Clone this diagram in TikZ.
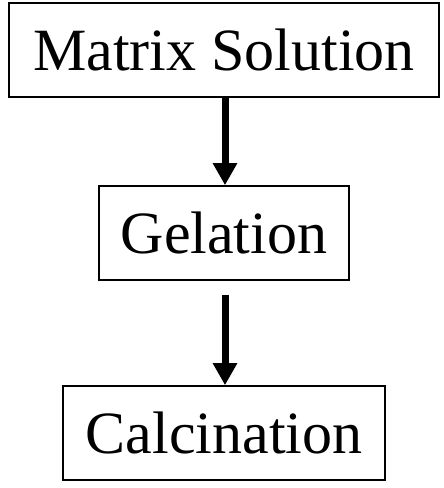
\documentclass[tikz,border=0pt]{standalone}
\usepackage{fontspec}
\setmainfont{Liberation Serif}
\usetikzlibrary{arrows.meta}
\begin{document}
\begin{tikzpicture}[x=1pt,y=1pt,
  stepbox/.style={draw, line width=1.5pt, inner sep=0pt, minimum height=94pt, font=\fontsize{60}{62}\selectfont},
  flow/.style={line width=7pt, -{Triangle[length=22pt,width=23pt]}}]
\useasboundingbox (0,0) rectangle (444,488);
\node[stepbox, minimum width=430pt] (m) at (224,438) {Matrix Solution};
\node[stepbox, minimum width=250pt] (g) at (224,255) {Gelation};
\node[stepbox, minimum width=322pt] (c) at (224,55) {Calcination};
\draw[flow] ([xshift=1pt]m.south) -- ([xshift=1pt]g.north);
\draw[flow, shorten <=14pt] ([xshift=1pt]g.south) -- ([xshift=1pt]c.north);
\end{tikzpicture}
\end{document}
